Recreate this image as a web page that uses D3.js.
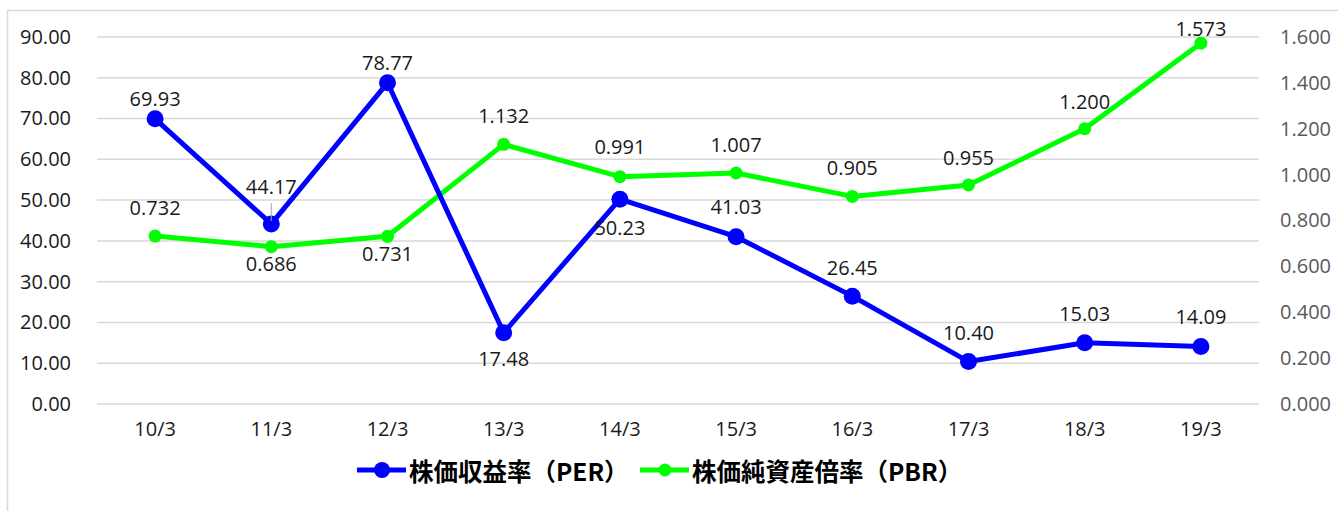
<!DOCTYPE html>
<html>
<head>
<meta charset="utf-8">
<script src="https://cdnjs.cloudflare.com/ajax/libs/d3/7.8.5/d3.min.js"></script>
<style>
  body { margin: 0; background: #fff; }
  text { font-family: "Open Sans", sans-serif; }
</style>
</head>
<body>
<div id="chart"></div>
<script>
var years = ["10/3", "11/3", "12/3", "13/3", "14/3", "15/3", "16/3", "17/3", "18/3", "19/3"];
var perValues = [69.93, 44.17, 78.77, 17.48, 50.23, 41.03, 26.45, 10.40, 15.03, 14.09];
var pbrValues = [0.732, 0.686, 0.731, 1.132, 0.991, 1.007, 0.905, 0.955, 1.200, 1.573];
var leftTicks = [0, 10, 20, 30, 40, 50, 60, 70, 80, 90];
var rightTicks = [0, 0.2, 0.4, 0.6, 0.8, 1.0, 1.2, 1.4, 1.6];
var perName = "株価収益率（PER）";
var pbrName = "株価純資産倍率（PBR）";

// label offsets (px from the marker, negative = above)
var perLabelDy = [-20, -37, -20, 26, 28, -30, -29, -29, -29, -30];
var pbrLabelDy = [-29, 17, 17, -29, -30, -29, -29, -27, -27, -15];

var width = 1338,
    height = 511,
    margin = {top: 37, left: 97, right: 1259, bottom: 404};

var fontSize = "20px";

var svg = d3.select("#chart").append("svg")
    .attr("width", width)
    .attr("height", height);

// chart frame
svg.append("rect")
    .attr("x", 7.5).attr("y", 10.5)
    .attr("width", 1400).attr("height", 600)
    .attr("fill", "none")
    .attr("stroke", "#d9d9d9")
    .attr("stroke-width", 1.5);

var x = d3.scaleBand()
    .domain(years)
    .range([margin.left, margin.right]);

var yL = d3.scaleLinear().domain([0, 90]).range([margin.bottom, margin.top]);
var yR = d3.scaleLinear().domain([0, 1.6]).range([margin.bottom, margin.top]);

var cx = function(d, i) { return x(years[i]) + x.bandwidth() / 2; };

// gridlines
svg.append("g").selectAll("line")
    .data(leftTicks).enter()
    .append("line")
    .attr("x1", margin.left).attr("x2", margin.right)
    .attr("y1", function(d) { return yL(d); })
    .attr("y2", function(d) { return yL(d); })
    .attr("stroke", "#d9d9d9")
    .attr("stroke-width", 1.5);

// left axis
var leftAxis = svg.append("g")
    .attr("transform", "translate(" + (margin.left - 26) + ",0)")
    .call(d3.axisLeft(yL).tickValues(leftTicks).tickFormat(d3.format(".2f")).tickSize(0).tickPadding(0));
leftAxis.select(".domain").remove();
leftAxis.selectAll("text")
    .attr("fill", "#1a1a1a")
    .style("font-size", fontSize)
    .style("font-family", "'Open Sans', sans-serif");

// right axis
var rightAxis = svg.append("g")
    .attr("transform", "translate(" + (margin.right + 21) + ",0)")
    .call(d3.axisRight(yR).tickValues(rightTicks).tickFormat(d3.format(".3f")).tickSize(0).tickPadding(0));
rightAxis.select(".domain").remove();
rightAxis.selectAll("text")
    .attr("fill", "#595959")
    .style("font-size", fontSize)
    .style("font-family", "'Open Sans', sans-serif");

// x axis
var bottomAxis = svg.append("g")
    .attr("transform", "translate(0," + (margin.bottom + 18) + ")")
    .call(d3.axisBottom(x).tickSize(0).tickPadding(0));
bottomAxis.select(".domain").remove();
bottomAxis.selectAll("text")
    .attr("fill", "#1a1a1a")
    .style("font-size", fontSize)
    .style("font-family", "'Open Sans', sans-serif");

function drawSeries(values, yScale, color, r, labelDy, fmt) {
  var line = d3.line()
      .x(cx)
      .y(function(d) { return yScale(d); });

  svg.append("path")
      .datum(values)
      .attr("d", line)
      .attr("fill", "none")
      .attr("stroke", color)
      .attr("stroke-width", 5)
      .attr("stroke-linejoin", "round");

  svg.append("g").selectAll("circle")
      .data(values).enter()
      .append("circle")
      .attr("cx", cx)
      .attr("cy", function(d) { return yScale(d); })
      .attr("r", r)
      .attr("fill", color);

  svg.append("g").selectAll("text")
      .data(values).enter()
      .append("text")
      .attr("x", cx)
      .attr("y", function(d, i) { return yScale(d) + labelDy[i]; })
      .attr("text-anchor", "middle")
      .attr("dominant-baseline", "central")
      .attr("fill", "#1a1a1a")
      .style("font-size", fontSize)
      .text(function(d) { return fmt(d); });
}

drawSeries(pbrValues, yR, "#00ff00", 6.5, pbrLabelDy, d3.format(".3f"));
drawSeries(perValues, yL, "#0000ff", 8.5, perLabelDy, d3.format(".2f"));

// leader line for the 44.17 label
svg.append("line")
    .attr("x1", cx(null, 1)).attr("x2", cx(null, 1))
    .attr("y1", yL(perValues[1]) - 21)
    .attr("y2", yL(perValues[1]) - 3)
    .attr("stroke", "#a6a6a6")
    .attr("stroke-width", 1);

// legend
var legend = [
  {name: perName, color: "#0000ff", r: 8, x: 357},
  {name: pbrName, color: "#00ff00", r: 6.5, x: 640}
];
var lg = svg.append("g").selectAll("g")
    .data(legend).enter()
    .append("g")
    .attr("transform", function(d) { return "translate(" + d.x + ",470)"; });
lg.append("line")
    .attr("x1", 0).attr("x2", 49)
    .attr("stroke", function(d) { return d.color; })
    .attr("stroke-width", 5);
lg.append("circle")
    .attr("cx", 25)
    .attr("r", function(d) { return d.r; })
    .attr("fill", function(d) { return d.color; });
lg.append("text")
    .attr("x", 52)
    .attr("dominant-baseline", "central")
    .attr("fill", "#000")
    .style("font-family", "'Noto Sans CJK JP', sans-serif")
    .style("font-weight", "bold")
    .style("font-size", "24.5px")
    .text(function(d) { return d.name; });
</script>
</body>
</html>
